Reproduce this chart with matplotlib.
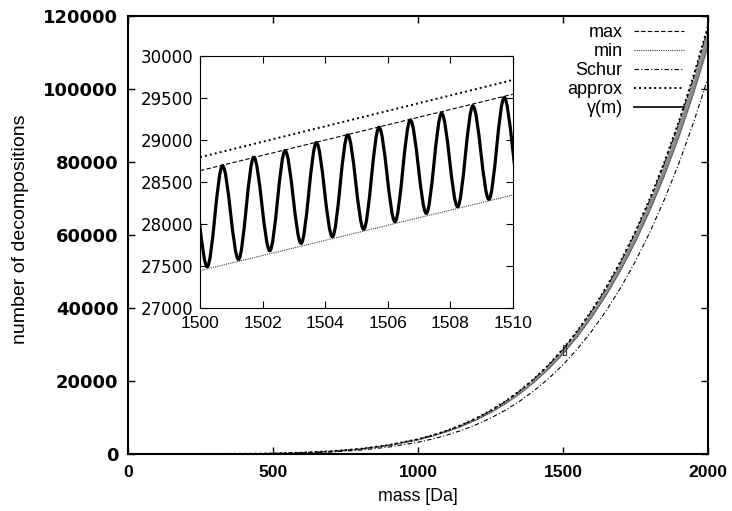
"""Number of decompositions vs. mass, with zoomed inset around 1500 Da."""

import matplotlib

matplotlib.use("Agg")
import matplotlib.pyplot as plt
import numpy as np
from matplotlib.lines import Line2D
from matplotlib.path import Path
from matplotlib.patches import PathPatch

# main panel, values
main_m = [0, 100, 200, 300, 400, 500, 600, 700, 800, 900, 1000,
          1050, 1100, 1150, 1200, 1250, 1300, 1350, 1400, 1450, 1500,
          1550, 1600, 1650, 1700, 1750, 1800, 1850, 1900, 1950, 2000]
main_approx = [0, 0, 3, 15, 55, 155, 360, 743, 1398, 2449, 4057,
               5129, 6415, 7948, 9761, 11890, 14376, 17262, 20592, 24419, 28794,
               33774, 39420, 45800, 52980, 61030, 70040, 80070, 91230, 103590, 117260]
main_max = [0, 0, 3, 15, 55, 154, 358, 738, 1390, 2436, 4034,
            5100, 6379, 7904, 9706, 11824, 14296, 17166, 20478, 24283, 28634,
            33587, 39204, 45547, 52686, 60694, 69648, 79627, 90720, 103016, 116610]
main_min = [0, 0, 3, 15, 53, 148, 343, 708, 1332, 2335, 3866,
            4888, 6114, 7575, 9303, 11332, 13702, 16452, 19626, 23274, 27443,
            32190, 37574, 43654, 50496, 58171, 66752, 76317, 86949, 98734, 111760]
main_schur = [0, 0, 1, 8, 33, 101, 250, 541, 1055, 1901, 3220,
              4110, 5186, 6477, 8012, 9827, 11956, 14439, 17318, 20639, 24452,
              28808, 33764, 39380, 45719, 52850, 60844, 69777, 79730, 90788, 103040]

# inset: straight bounds over 1500..1510
inset_m = [1500, 1510]
inset_approx = [28795, 29715]
inset_max = [28635, 29545]
inset_min = [27445, 28345]

# inset: extrema of gamma(m) (troughs / peaks)
gamma_ext_m = [1499.72, 1500.23, 1500.72, 1501.23, 1501.72, 1502.23, 1502.72,
               1503.23, 1503.72, 1504.23, 1504.72, 1505.23, 1505.72, 1506.23,
               1506.72, 1507.23, 1507.72, 1508.23, 1508.72, 1509.23, 1509.72,
               1510.23]
gamma_ext_v = [28600, 27492, 28694, 27579, 28794, 27683, 28873,
               27770, 28968, 27849, 29060, 27937, 29151, 28028,
               29238, 28127, 29317, 28206, 29405, 28294, 29504,
               28380]

legend_labels = ["max", "min", "Schur", "approx", "\u03b3(m)"]

plt.rcParams["font.family"] = ["Liberation Sans", "DejaVu Sans"]

STY_MAX = dict(color="k", lw=0.8, ls=(0, (4, 2)))
STY_MIN = dict(color="0.25", lw=0.8, ls=(0, (1, 1)))
STY_SCHUR = dict(color="k", lw=0.8, ls=(0, (4, 2, 1, 2)))
STY_APPROX = dict(color="k", lw=1.4, ls=(0, (1, 1.6)))


def smooth_path(xs, ys):
    # cubic segments with flat tangents at every extremum
    verts = [(xs[0], ys[0])]
    codes = [Path.MOVETO]
    for x0, y0, x1, y1 in zip(xs[:-1], ys[:-1], xs[1:], ys[1:]):
        dx = (x1 - x0) / 3
        verts += [(x0 + dx, y0), (x1 - dx, y1), (x1, y1)]
        codes += [Path.CURVE4] * 3
    return Path(verts, codes)


fig = plt.figure(figsize=(7.32, 5.11), dpi=100)
ax = fig.add_axes([128 / 732, 57 / 511, 580 / 732, 438 / 511])

ax.fill_between(main_m, main_min, main_max, color="0.55", lw=0)
ax.plot(main_m, main_max, **STY_MAX)
ax.plot(main_m, main_min, **STY_MIN)
ax.plot(main_m, main_schur, **STY_SCHUR)
ax.plot(main_m, main_approx, **STY_APPROX)

handles = [Line2D([], [], **STY_MAX), Line2D([], [], **STY_MIN),
           Line2D([], [], **STY_SCHUR), Line2D([], [], **STY_APPROX),
           Line2D([], [], color="k", lw=1.2)]
ax.legend(handles, legend_labels, loc="upper right", frameon=False,
          markerfirst=False, fontsize=13, handlelength=2.75,
          handletextpad=0.65, labelspacing=0.11,
          bbox_to_anchor=(1 - 24 / 580, 1 - 8 / 438), borderaxespad=0,
          borderpad=0)

ax.set_xlim(0, 2000)
ax.set_ylim(0, 120000)
ax.set_xticks(np.arange(0, 2001, 500))
ax.set_yticks(np.arange(0, 120001, 20000))
ax.tick_params(direction="in", top=True, right=True, length=5, width=1)
ax.tick_params(axis="x", pad=8)
ax.tick_params(axis="y", pad=7)
for lab in ax.get_xticklabels():
    lab.set_fontweight("bold")
    lab.set_fontsize(12.6)
for lab in ax.get_yticklabels():
    lab.set_family("DejaVu Sans")
    lab.set_fontweight("bold")
    lab.set_fontsize(13)
for sp in ax.spines.values():
    sp.set_linewidth(1.5)
ax.set_xlabel("mass [Da]", fontsize=12.8, va="top")
ax.xaxis.set_label_coords(0.5, -0.077)
ax.set_ylabel("number of decompositions", fontsize=14)
ax.yaxis.set_label_coords(-0.17, 0.514)

# inset
ins = fig.add_axes([200 / 732, 203 / 511, 313 / 732, 252 / 511])
ins.plot(inset_m, inset_max, **STY_MAX)
ins.plot(inset_m, inset_min, **STY_MIN)
ins.plot(inset_m, inset_approx, **STY_APPROX)
ins.add_patch(PathPatch(smooth_path(gamma_ext_m, gamma_ext_v), fill=False,
                        ec="k", lw=2.3))
ins.set_xlim(1500, 1510)
ins.set_ylim(27000, 30000)
ins.set_xticks(np.arange(1500, 1511, 2))
ins.set_yticks(np.arange(27000, 30001, 500))
ins.tick_params(direction="in", top=True, right=True, length=5, width=0.8)
ins.tick_params(axis="x", pad=6, labelsize=12.6)
ins.tick_params(axis="y", pad=5)
for lab in ins.get_yticklabels():
    lab.set_family("DejaVu Sans")
    lab.set_fontsize(12)
for sp in ins.spines.values():
    sp.set_linewidth(0.8)

# zoom box marker on the main panel
ax.add_patch(plt.Rectangle((inset_m[0], 27000), inset_m[1] - inset_m[0], 3000,
                           fill=False, ec="0.2", lw=0.8))

fig.savefig("out.png", dpi=100)
